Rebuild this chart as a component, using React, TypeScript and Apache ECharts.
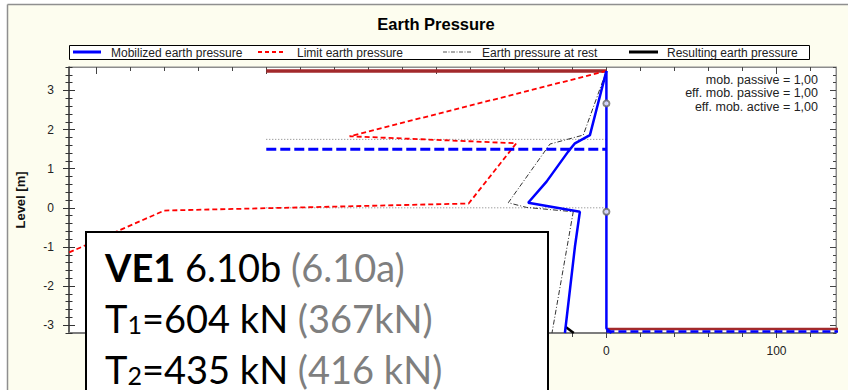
import React, { useEffect, useRef } from "react";
import * as echarts from "echarts";

// ---- Axis ticks ----------------------------------------------------------
const levelTicks = [-3, -2, -1, 0, 1, 2, 3];
const pressureMajorTicks = [-300, -200, -100, 0, 100];
// the box in the lower left covers the negative pressure labels
const pressureLabels = [0, 100];
const pressureTicks = [
  -300, -280, -260, -240, -220, -200, -180, -160, -140, -120, -100, -80, -60,
  -40, -20, 0, 20, 40, 60, 80, 100, 120,
];

// ---- Earth pressure curves (pressure [kN/m²], level [m]) ----------------
const mobilizedPressure = [0, -9.7, -18.5, -22.6, -35.2, -46.0, -15.6, -18.5, -24.4];
const mobilizedLevel = [3.5, 1.86, 1.65, 1.43, 0.67, 0.13, -0.1, -0.99, -3.2];

const wallPressure = [0, 0, 3];
const wallLevel = [3.5, -3.08, -3.2];

const limitPressure = [0, -151, -53, -81, -260, -330];
const limitLevel = [3.5, 1.83, 1.65, 0.11, -0.07, -1.41];

const restPressure = [0, -13.6, -33.2, -57.7, -46.9, -19.5, -32];
const restLevel = [3.5, 1.86, 1.63, 0.13, 0.01, -0.1, -3.2];

const resultingPressure = [-24.1, -19.2];
const resultingLevel = [-3.04, -3.2];

// ---- Ground, layers, anchor --------------------------------------------
const retainedSideExtent = [-200, 0];
const excavationSideExtent = [0, 140];
const groundLevel = 3.5;
const excavationLevel = -3.1;
const excavationWaterLevel = -3.16;
const layerLevels = [1.75, 0];
const anchorLevel = 1.5;
const anchorMarkerLevels = [2.67, -0.1];

// ---- Texts -------------------------------------------------------------
const chartTitle = "Earth Pressure";
const legendNames = [
  "Mobilized earth pressure",
  "Limit earth pressure",
  "Earth pressure at rest",
  "Resulting earth pressure",
];
const mobilizationNotes = [
  "mob. passive = 1,00",
  "eff. mob. passive = 1,00",
  "eff. mob. active = 1,00",
];
const caseLines = [
  "{b|VE1} {n|6.10b} {g|(6.10a)}",
  "{n|T}{s|1}{n|=604 kN} {g|(367kN)}",
  "{n|T}{s|2}{n|=435 kN} {g|(416 kN)}",
];

const BLUE = "#0000ff";
const RED = "#ff0000";
const BROWN = "#a2292b";
const REST = "#333333";
const SANS = "'Liberation Sans', Arial, sans-serif";

const zip = (xs: number[], ys: number[]) => xs.map((x, i) => [x, ys[i]]);
const flat = (xs: number[], level: number) => xs.map((x) => [x, level]);

const minorLevels: number[] = [];
for (let i = -16; i <= 18; i++) if (i % 5 !== 0) minorLevels.push(i / 5);

const X_MIN = -316;
const X_MAX = 135;
const Y_MIN = -3.2;
const Y_MAX = 3.6;

function xAxis(position: string, extra: any = {}) {
  return {
    type: "value",
    position,
    min: X_MIN,
    max: X_MAX,
    splitLine: { show: false },
    axisLine: { show: false, onZero: false },
    axisLabel: { show: false },
    axisTick: { show: false },
    ...extra,
  };
}
function yAxis(position: string, extra: any = {}) {
  return {
    type: "value",
    position,
    min: Y_MIN,
    max: Y_MAX,
    splitLine: { show: false },
    axisLine: { show: false, onZero: false },
    axisLabel: { show: false },
    axisTick: { show: false },
    ...extra,
  };
}
const tick = (values: number[], length: number, inside: boolean, color = "#444") => ({
  show: true,
  customValues: values,
  length,
  inside,
  lineStyle: { color, width: 1 },
});

function lineSeries(data: number[][], color: string, width: number, type: any = "solid", z = 2) {
  return {
    type: "line",
    data,
    symbol: "none",
    silent: true,
    z,
    lineStyle: { color, width, type },
  };
}

function buildOption(): any {
  const legendY = 52;
  const legendItems = [
    { x1: 73, x2: 101, tx: 111, stroke: BLUE, w: 3, dash: null },
    { x1: 258, x2: 285, tx: 297, stroke: RED, w: 2, dash: [4, 3] },
    { x1: 443, x2: 472, tx: 482, stroke: "#555", w: 1, dash: [4, 1.5, 1, 1.5] },
    { x1: 629, x2: 658, tx: 667, stroke: "#000", w: 3, dash: null },
  ];

  const graphic: any[] = [
    // outer panel edges
    { type: "rect", z: 1, shape: { x: 0, y: 0, width: 848, height: 4 }, style: { fill: "#fff" } },
    { type: "rect", z: 1, shape: { x: 0, y: 0, width: 7, height: 390 }, style: { fill: "#fff" } },
    { type: "line", z: 1, shape: { x1: 7.5, y1: 4.5, x2: 848, y2: 4.5 }, style: { stroke: "#8f8f8f", lineWidth: 1.5 } },
    { type: "line", z: 1, shape: { x1: 7.5, y1: 4.5, x2: 7.5, y2: 390 }, style: { stroke: "#8f8f8f", lineWidth: 1.5 } },
    {
      type: "text",
      z: 50,
      x: 436,
      y: 24,
      style: { text: chartTitle, font: `bold 16.5px ${SANS}`, fill: "#000", align: "center", verticalAlign: "middle" },
    },
    {
      type: "rect",
      z: 50,
      shape: { x: 69.5, y: 45.5, width: 740, height: 14 },
      style: { fill: "#fff", stroke: "#000", lineWidth: 1 },
    },
  ];
  legendItems.forEach((it, i) => {
    graphic.push({
      type: "line",
      z: 51,
      shape: { x1: it.x1, y1: legendY, x2: it.x2, y2: legendY },
      style: { stroke: it.stroke, lineWidth: it.w, lineDash: it.dash || undefined },
    });
    graphic.push({
      type: "text",
      z: 51,
      x: it.tx,
      y: legendY + 0.5,
      style: { text: legendNames[i], font: `12px ${SANS}`, fill: "#222", align: "left", verticalAlign: "middle" },
    });
  });
  mobilizationNotes.forEach((t, i) => {
    graphic.push({
      type: "text",
      z: 50,
      x: 818,
      y: 79.5 + i * 13.7,
      style: { text: t, font: `12.5px ${SANS}`, fill: "#222", align: "right", verticalAlign: "middle" },
    });
  });

  // design case box
  graphic.push({
    type: "rect",
    z: 100,
    shape: { x: 86, y: 232, width: 462, height: 200 },
    style: { fill: "#fff", stroke: "#000", lineWidth: 2 },
  });
  const rich = {
    b: { fontFamily: "Lato", fontSize: 38, fontWeight: "bold", fill: "#000" },
    n: { fontFamily: "Lato", fontSize: 38, fill: "#000" },
    g: { fontFamily: "Lato", fontSize: 38, fill: "#7f7f7f" },
    s: { fontFamily: "Lato", fontSize: 25, fill: "#000", verticalAlign: "bottom" },
  };
  const lineYs = [267, 317.5, 368.5];
  caseLines.forEach((t, i) => {
    graphic.push({
      type: "text",
      z: 101,
      x: 105,
      y: lineYs[i],
      style: {
        text: t,
        rich,
        fontFamily: "Lato",
        fontSize: 38,
        fill: "#000",
        align: "left",
        verticalAlign: "middle",
      },
    });
  });

  const labelStyle = { show: true, fontFamily: SANS, fontSize: 12, color: "#222" };

  return {
    animation: false,
    backgroundColor: "#fdfdef",
    grid: {
      left: 69,
      right: 12,
      top: 67,
      bottom: 57,
      show: true,
      backgroundColor: "#ffffff",
      borderColor: "#8c8c8c",
      borderWidth: 1,
    },
    xAxis: [
      xAxis("bottom", {
        axisLine: { show: true, onZero: false, lineStyle: { color: "#7d7d7d", width: 2 } },
        axisTick: tick(pressureMajorTicks, 5, false),
        axisLabel: { ...labelStyle, customValues: pressureLabels, margin: 12 },
      }),
      xAxis("bottom", { axisTick: tick(pressureMajorTicks, 4, true) }),
      xAxis("bottom", { axisTick: tick(pressureTicks, 4, false) }),
      xAxis("top", {
        axisLine: { show: true, onZero: false, lineStyle: { color: "#8c8c8c", width: 1 } },
        axisTick: tick(pressureTicks, 4, true),
      }),
      xAxis("top", { axisTick: tick(pressureMajorTicks, 7, true) }),
    ],
    yAxis: [
      yAxis("left", {
        name: "Level [m]",
        nameLocation: "middle",
        nameGap: 42,
        nameTextStyle: { fontFamily: SANS, fontSize: 13, fontWeight: "bold", color: "#111" },
        axisLine: { show: true, onZero: false, lineStyle: { color: "#404040", width: 1.5 } },
        axisTick: tick(levelTicks, 6, false, "#333"),
        axisLabel: { ...labelStyle, customValues: levelTicks, margin: 15 },
      }),
      yAxis("left", { axisTick: tick(levelTicks, 6, true, "#333") }),
      yAxis("left", { axisTick: tick(minorLevels, 3.5, false, "#333") }),
      yAxis("left", { axisTick: tick(minorLevels, 3.5, true, "#333") }),
      yAxis("right", {
        axisLine: { show: true, onZero: false, lineStyle: { color: "#8c8c8c", width: 1 } },
        axisTick: tick(levelTicks, 6, true),
      }),
      yAxis("right", { axisTick: tick(minorLevels, 3, true) }),
    ],
    series: [
      ...layerLevels.map((lv) => lineSeries(flat(retainedSideExtent, lv), "#7a7a7a", 1, [1, 2], 1)),
      lineSeries(flat(retainedSideExtent, groundLevel), BROWN, 3.5, "solid", 2),
      lineSeries(flat(excavationSideExtent, excavationLevel), BROWN, 2.5, "solid", 2),
      lineSeries(zip(limitPressure, limitLevel), RED, 1.8, [5, 3], 3),
      lineSeries(zip(restPressure, restLevel), REST, 1, [5, 2, 1, 2], 3),
      lineSeries(zip(resultingPressure, resultingLevel), "#000", 2.5, "solid", 3),
      lineSeries(zip(mobilizedPressure, mobilizedLevel), BLUE, 2.5, "solid", 4),
      lineSeries(zip(wallPressure, wallLevel), BLUE, 2.5, "solid", 4),
      lineSeries(flat(retainedSideExtent, anchorLevel), BLUE, 3, [10, 4], 5),
      lineSeries(flat(excavationSideExtent, excavationWaterLevel), BLUE, 2.5, [8, 4], 5),
      {
        type: "scatter",
        silent: true,
        z: 6,
        data: anchorMarkerLevels.map((lv) => [0, lv]),
        symbol: "emptyCircle",
        symbolSize: 6,
        itemStyle: { color: "#666", borderColor: "#666", borderWidth: 1 },
      },
    ],
    graphic,
  };
}

export default function App() {
  const ref = useRef<HTMLDivElement>(null);
  useEffect(() => {
    if (!ref.current) return;
    const chart = echarts.init(ref.current, undefined, { renderer: "svg" });
    chart.setOption(buildOption());
    return () => chart.dispose();
  }, []);
  return (
    <div
      ref={ref}
      style={{ position: "absolute", left: 0, top: 0, width: 848, height: 390 }}
    />
  );
}
